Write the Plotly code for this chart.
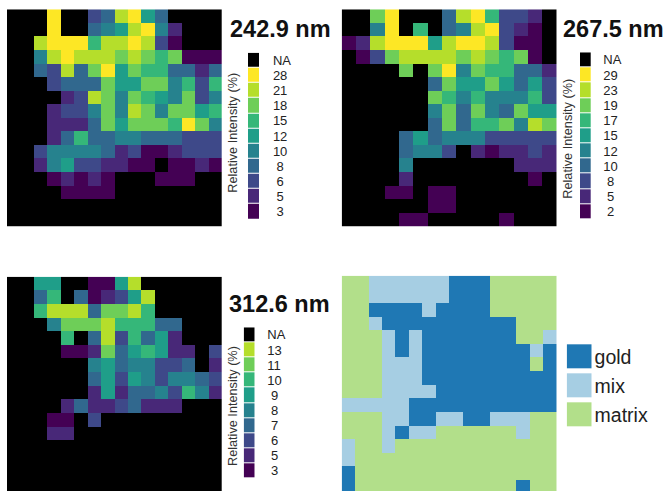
import plotly.graph_objects as go

W, H = 665, 491

viridis_levels = ["#000000", "#440154", "#482878", "#3E4989", "#31688E", "#26828E",
                  "#1F9E89", "#35B779", "#6ECE58", "#B5DE2B", "#FDE725"]
class_colors = ["#B2DF8A", "#A6CEE3", "#1F78B4"]

labels_243 = ["NA", "28", "21", "18", "15", "12", "10", "8", "6", "5", "3"]
levels_243 = [0, 10, 9, 8, 7, 6, 5, 4, 3, 2, 1]
labels_268 = ["NA", "29", "23", "19", "17", "15", "12", "10", "8", "5", "2"]
levels_268 = [0, 10, 9, 8, 7, 6, 5, 4, 3, 2, 1]
labels_313 = ["NA", "13", "11", "10", "9", "8", "7", "6", "5", "3"]
levels_313 = [0, 9, 8, 7, 6, 5, 4, 3, 2, 1]
class_labels = ["gold", "mix", "matrix"]
class_levels = [2, 1, 0]

map_243 = [
    [0,0,0,10,0,0,3,4,9,10,6,4,0,0,0,0],
    [0,0,0,10,0,0,4,5,6,9,10,5,2,0,0,0],
    [0,0,9,10,10,10,7,9,9,10,9,3,1,0,0,0],
    [0,0,5,9,10,9,9,9,8,9,8,7,8,1,1,1],
    [0,0,4,3,9,4,8,10,6,8,7,7,4,4,2,4],
    [0,0,0,3,4,4,4,8,6,6,8,8,5,7,3,7],
    [0,0,0,0,2,3,9,8,5,8,7,6,5,8,3,5],
    [0,0,0,2,3,3,5,8,5,9,8,5,8,8,6,7],
    [0,0,0,2,2,2,4,8,6,8,8,8,7,10,8,5],
    [0,0,0,2,4,7,4,4,5,5,4,4,4,3,3,3],
    [0,0,3,5,5,5,5,4,2,3,1,1,2,3,3,3],
    [0,0,2,5,6,3,3,2,2,1,1,0,1,1,2,1],
    [0,0,0,1,2,1,2,1,0,0,0,1,1,1,0,0],
    [0,0,0,0,1,1,1,1,0,0,0,0,0,0,0,0],
    [0,0,0,0,0,0,0,0,0,0,0,0,0,0,0,0],
    [0,0,0,0,0,0,0,0,0,0,0,0,0,0,0,0],
]

map_268 = [
    [0,0,8,10,0,0,0,4,9,10,7,3,3,2,0],
    [0,0,5,10,0,7,0,4,5,9,10,3,2,1,0],
    [1,2,9,10,10,10,6,9,10,10,9,3,1,1,0],
    [0,1,3,8,9,9,9,9,8,9,8,7,8,1,0],
    [0,0,0,0,8,0,8,10,5,8,7,7,4,4,2],
    [0,0,0,0,0,0,4,8,6,6,8,6,4,6,3],
    [0,0,0,0,0,0,8,7,5,7,5,5,5,7,3],
    [0,0,0,0,0,0,5,8,4,8,5,4,8,6,6],
    [0,0,0,0,0,0,4,8,4,7,7,8,5,9,8],
    [0,0,0,0,4,6,4,5,5,5,3,3,3,3,3],
    [0,0,0,0,4,5,5,3,0,2,1,2,2,3,2],
    [0,0,0,0,5,0,0,0,0,0,0,0,2,2,2],
    [0,0,0,0,2,0,0,0,0,0,0,0,0,1,0],
    [0,0,0,1,1,0,1,1,0,0,0,0,0,0,0],
    [0,0,0,0,0,0,1,1,0,0,0,0,0,0,0],
    [0,0,0,0,1,1,0,0,0,0,0,1,0,0,0],
]

map_313 = [
    [0,0,6,6,0,0,1,1,6,9,0,0,0,0,0,0],
    [0,0,4,7,0,4,1,2,3,6,9,0,0,0,0,0],
    [0,0,7,9,9,9,4,8,8,9,7,0,0,0,0,0],
    [0,0,0,5,8,8,8,9,7,7,7,4,4,0,0,0],
    [0,0,0,0,7,0,4,9,3,7,4,6,2,0,0,0],
    [0,0,0,0,1,1,2,8,4,6,7,6,2,2,0,3],
    [0,0,0,0,0,0,5,6,4,5,5,3,3,4,0,2],
    [0,0,0,0,0,0,4,6,3,6,5,3,5,5,4,3],
    [0,0,0,0,0,0,2,6,2,4,4,5,3,7,5,2],
    [0,0,0,0,2,4,2,2,3,4,2,2,2,0,0,0],
    [0,0,0,1,1,0,3,0,0,0,0,0,0,0,0,0],
    [0,0,0,2,2,0,0,0,0,0,0,0,0,0,0,0],
    [0,0,0,0,0,0,0,0,0,0,0,0,0,0,0,0],
    [0,0,0,0,0,0,0,0,0,0,0,0,0,0,0,0],
    [0,0,0,0,0,0,0,0,0,0,0,0,0,0,0,0],
    [0,0,0,0,0,0,0,0,0,0,0,0,0,0,0,0],
]

map_class = [
    [0,0,1,1,1,1,1,1,2,2,2,0,0,0,0,0],
    [0,0,1,1,1,1,1,1,2,2,2,0,0,0,0,0],
    [0,0,2,2,2,2,1,2,2,2,2,0,0,0,0,0],
    [0,0,1,2,2,2,2,2,2,2,2,2,2,0,0,0],
    [0,0,0,1,2,1,2,2,2,2,2,2,2,0,0,1],
    [0,0,0,1,2,1,2,2,2,2,2,2,2,2,1,2],
    [0,0,0,1,1,1,2,2,2,2,2,2,2,2,0,2],
    [0,0,0,1,1,1,2,2,2,2,2,2,2,2,2,2],
    [0,0,0,1,1,1,1,2,2,2,2,2,2,2,2,2],
    [1,1,1,1,1,2,2,2,2,2,2,2,2,2,2,2],
    [0,0,0,1,1,2,2,1,1,2,2,1,1,1,0,0],
    [0,0,0,1,2,1,1,0,0,0,0,0,0,1,0,0],
    [1,0,0,1,0,0,0,0,0,0,0,0,0,0,0,0],
    [1,0,0,0,0,0,0,0,0,0,0,0,0,0,0,0],
    [2,0,0,0,0,0,0,0,0,0,0,0,0,0,0,0],
    [2,0,0,0,0,0,0,0,0,0,0,0,0,2,0,0],
]


def stepped(colors):
    n = len(colors)
    scale = []
    for i, c in enumerate(colors):
        scale += [[i / n, c], [(i + 1) / n, c]]
    return scale


def xdom(x0, x1):
    return [x0 / W, x1 / W]


def ydom(top, bottom):
    return [max(0, 1 - bottom / H), 1 - top / H]


def pad(t):
    return "\u00a0" + t if len(t) == 1 else t


fig = go.Figure()
layout = {}
counter = [0]


def add_map(grid, colors, x0, x1, top, bottom, rows_shown=16):
    counter[0] += 1
    k = counter[0]
    fig.add_trace(go.Heatmap(z=grid, zmin=-0.5, zmax=len(colors) - 0.5,
                             colorscale=stepped(colors), showscale=False,
                             xaxis=f"x{k}", yaxis=f"y{k}"))
    ncols = len(grid[0])
    layout[f"xaxis{k}"] = dict(domain=xdom(x0, x1), range=[-0.5, ncols - 0.5], visible=False,
                               anchor=f"y{k}")
    layout[f"yaxis{k}"] = dict(domain=ydom(top, bottom), range=[rows_shown - 0.5, -0.5],
                               visible=False, anchor=f"x{k}")


def add_key(labels, levels, colors, x0, x1, top, bottom, fsize, standoff, gap, label_shift=0):
    counter[0] += 1
    k = counter[0]
    names = [pad(t) for t in labels]
    fig.add_trace(go.Heatmap(z=[[v] for v in levels], y=names, x=["key"],
                             zmin=-0.5, zmax=len(colors) - 0.5, colorscale=stepped(colors),
                             showscale=False, ygap=gap, xaxis=f"x{k}", yaxis=f"y{k}"))
    layout[f"xaxis{k}"] = dict(domain=xdom(x0, x1), visible=False, anchor=f"y{k}")
    layout[f"yaxis{k}"] = dict(domain=ydom(top, bottom), autorange="reversed", side="right",
                               anchor=f"x{k}", type="category", showgrid=False, zeroline=False,
                               showline=False, ticks="outside", ticklen=standoff,
                               ticklabelstandoff=label_shift,
                               tickmode="array", tickvals=names, ticktext=names,
                               tickcolor="rgba(0,0,0,0)", tickwidth=1,
                               tickfont=dict(size=fsize, color="#222222",
                                             family="Liberation Sans, Arial, sans-serif"))


add_map(map_243, viridis_levels, 7, 221.7, 9.3, 226.7)
add_map(map_268, viridis_levels, 341.7, 556.7, 9.3, 226.7)
add_map(map_313, viridis_levels, 7, 221.7, 276.7, 491, rows_shown=15.76)
add_map(map_class, class_colors, 341.7, 556.7, 275.7, 491, rows_shown=15.82)

add_key(labels_243, levels_243, viridis_levels, 248, 259.3, 52.7, 219.3, 13, 10, 1)
add_key(labels_268, levels_268, viridis_levels, 580, 590.7, 52.3, 219.3, 13, 9, 1)
add_key(labels_313, levels_313, viridis_levels, 243.7, 254.7, 327.3, 478.3, 13, 9, 1)
add_key(class_labels, class_levels, class_colors, 566.7, 591.7, 342.3, 429.3, 19.5, 0, 5, label_shift=-2)

FONT = "Liberation Sans, Arial, sans-serif"


def note(text, x, y, size, bold=False, angle=0, xanchor="left"):
    return dict(text=f"<b>{text}</b>" if bold else text, xref="paper", yref="paper",
                x=x / W, y=1 - y / H, xanchor=xanchor, yanchor="middle", showarrow=False,
                textangle=angle, font=dict(size=size, color="#111111" if bold else "#333333", family=FONT))


annotations = [
    note("242.9 nm", 228, 29, 23.5, bold=True),
    note("267.5 nm", 561, 29, 23.5, bold=True),
    note("312.6 nm", 227, 304, 23.5, bold=True),
    note("Relative Intensity (%)", 232.7, 133, 12.7, angle=-90, xanchor="center"),
    note("Relative Intensity (%)", 567.7, 139, 12.7, angle=-90, xanchor="center"),
    note("Relative Intensity (%)", 233, 406, 12.7, angle=-90, xanchor="center"),
]

fig.update_layout(width=W, height=H, margin=dict(l=0, r=0, t=0, b=0), paper_bgcolor="white",
                  plot_bgcolor="white", annotations=annotations, **layout)
fig.write_html("out.html", config={"displayModeBar": False},
               post_script="document.body.style.margin='0';document.documentElement.style.overflow='hidden';")
